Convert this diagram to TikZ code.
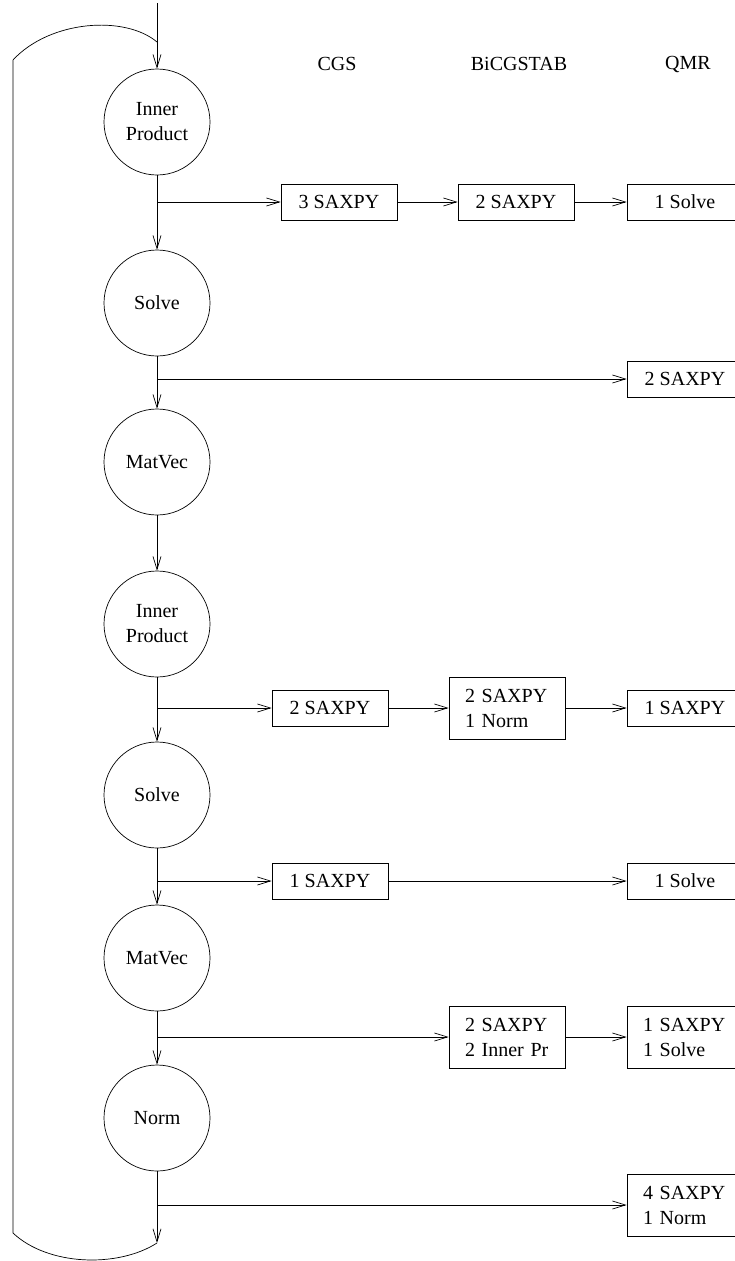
\documentclass[tikz,border=0pt]{standalone}
\usepackage{fontspec}
\setmainfont{Liberation Serif}
\usetikzlibrary{arrows.meta}

\begin{document}
\begin{tikzpicture}[x=1pt, y=-1pt, line width=0.7pt,
    >={Straight Barb[length=13pt,width=8pt]},
    every node/.style={font=\fontsize{20}{25}\selectfont},
    opnode/.style={draw, circle, minimum size=106pt, inner sep=0pt, align=center},
    opbox/.style={draw, rectangle, minimum width=116pt, minimum height=36pt, inner sep=0pt},
    twobox/.style={opbox, minimum height=62pt, text width=84pt, align=left}]
            \useasboundingbox (0,0) rectangle (735,1261);

            % column heads
            \node (hCGS) at (337,64) {CGS};
            \node (hBiCG) at (519,64) {BiCGSTAB};
            \node (hQMR) at (688,64) {QMR};

            % main loop
            \coordinate (start) at (157,3);
            \coordinate (loopin) at (157,42);
            \node[opnode] (IP1) at (157,122) {Inner\\Product};
            \path [->] (start) edge (IP1);

            \node[opnode] (Solve1) at (157,303) {Solve};
            \path [->] (IP1) edge (Solve1);

            \node[opnode] (MatVec1) at (157,462) {MatVec};
            \path [->] (Solve1) edge (MatVec1);

            \node[opnode] (IP2) at (157,624) {Inner\\Product};
            \path [->] (MatVec1) edge (IP2);

            \node[opnode] (Solve2) at (157,795) {Solve};
            \path [->] (IP2) edge (Solve2);

            \node[opnode] (MatVec2) at (157,958) {MatVec};
            \path [->] (Solve2) edge (MatVec2);

            \node[opnode] (Norm) at (157,1118) {Norm};
            \path [->] (MatVec2) edge (Norm);

            \coordinate (loopout) at (157,1243);
            \path [->] (Norm) edge (loopout);

            % back edge
            \coordinate (LB) at (13,1233);
            \coordinate (LT) at (13,60);
            \draw (loopout) .. controls (118,1268) and (48,1266) .. (LB) -- (LT)
                  .. controls (50,20) and (125,15) .. (loopin);

            % row 1
            \coordinate (B1) at (157,202);
            \node[opbox] (CGS1) at (339,202) {3 SAXPY};
            \node[opbox] (BiCG1) at (516,202) {2 SAXPY};
            \node[opbox] (QMR1) at (685,202) {1 Solve};
            \path [->] (B1) edge (CGS1);
            \path [->] (CGS1) edge (BiCG1);
            \path [->] (BiCG1) edge (QMR1);

            % row 2
            \coordinate (B2) at (157,379);
            \node[opbox] (QMR2) at (685,379) {2 SAXPY};
            \path [->] (B2) edge (QMR2);

            % row 3
            \coordinate (B3) at (157,708);
            \node[opbox] (CGS3) at (330,708) {2 SAXPY};
            \node[twobox] (BiCG3) at (507,708) {2 SAXPY\\1 Norm};
            \node[opbox] (QMR3) at (685,708) {1 SAXPY};
            \path [->] (B3) edge (CGS3);
            \path [->] (CGS3) edge (BiCG3);
            \path [->] (BiCG3) edge (QMR3);

            % row 4
            \coordinate (B4) at (157,881);
            \node[opbox] (CGS4) at (330,881) {1 SAXPY};
            \node[opbox] (QMR4) at (685,881) {1 Solve};
            \path [->] (B4) edge (CGS4);
            \path [->] (CGS4) edge (QMR4);

            % row 5
            \coordinate (B5) at (157,1037);
            \node[twobox] (BiCG5) at (507,1037) {2 SAXPY\\2 Inner Pr};
            \node[twobox] (QMR5) at (685,1037) {1 SAXPY\\1 Solve};
            \path [->] (B5) edge (BiCG5);
            \path [->] (BiCG5) edge (QMR5);

            % row 6
            \coordinate (B6) at (157,1205);
            \node[twobox] (QMR6) at (685,1205) {4 SAXPY\\1 Norm};
            \path [->] (B6) edge (QMR6);

        \end{tikzpicture}
\end{document}
